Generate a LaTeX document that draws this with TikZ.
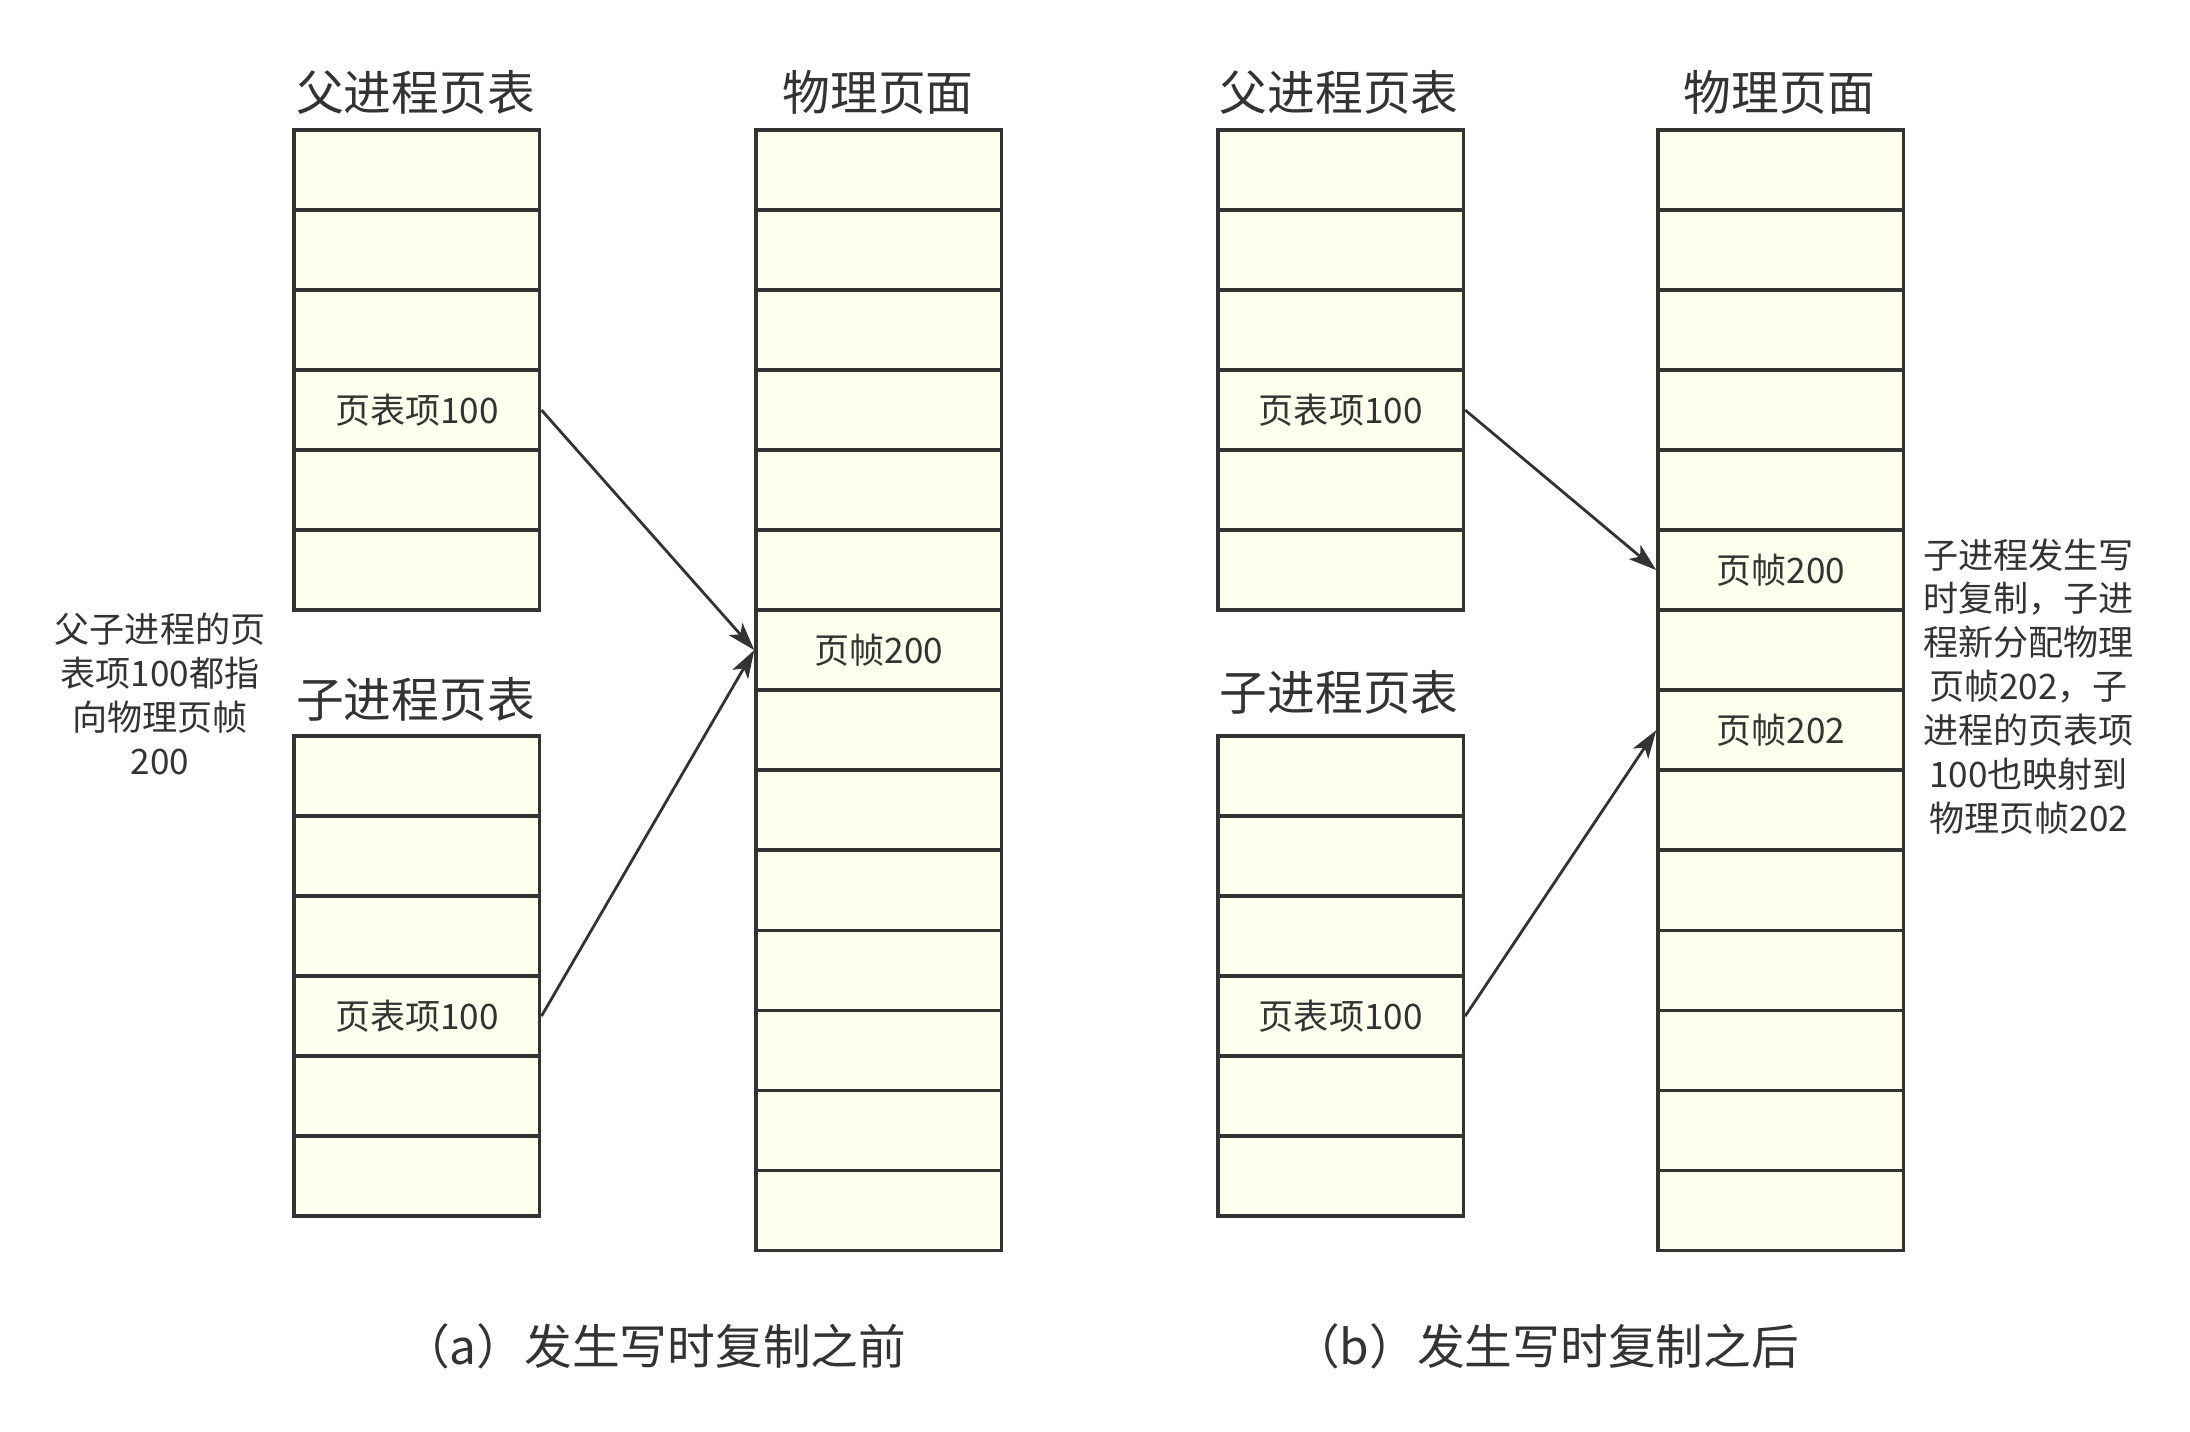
\documentclass[tikz,border=0pt]{standalone}
\usepackage{fontspec}
\setmainfont{Noto Sans CJK SC}
\usetikzlibrary{arrows.meta}
\definecolor{cellfill}{HTML}{FFFFEE}
\definecolor{inkgray}{HTML}{333333}
\tikzset{
	cell/.style={draw=inkgray, line width=2.4pt, fill=cellfill, minimum width=175pt, minimum height=57pt, inner sep=0pt, text=inkgray, font=\fontsize{25}{27}\selectfont},
	heading/.style={text=inkgray, font=\fontsize{34}{38}\selectfont},
	remark/.style={text=inkgray, align=center, font=\fontsize{25}{31.3}\selectfont},
	pointer/.style={draw=inkgray, line width=2pt, -{Stealth[length=20pt,width=13pt,inset=5pt]}}
}

\begin{document}
\begin{tikzpicture}[x=1pt, y=-1pt]
			%%%%% START %%%%%
			\useasboundingbox (0, 0) rectangle (1560, 1020);
			
			% (a) before
			\node[heading] (aparenttitle) at (296, 66) {父进程页表};
			\node[cell] (apar1) at (297, 121.1) {};
			\node[cell] (apar2) at (297, 178.1) {};
			\node[cell] (apar3) at (297, 235.1) {};
			\node[cell] (apar4) at (297, 292.1) {页表项100};
			\node[cell] (apar5) at (297, 349.1) {};
			\node[cell] (apar6) at (297, 406.1) {};
			
			\node[heading] (achildtitle) at (296, 498) {子进程页表};
			\node[cell] (achd1) at (297, 552.8) {};
			\node[cell] (achd2) at (297, 609.8) {};
			\node[cell] (achd3) at (297, 666.8) {};
			\node[cell] (achd4) at (297, 723.8) {页表项100};
			\node[cell] (achd5) at (297, 780.8) {};
			\node[cell] (achd6) at (297, 837.8) {};
			
			\node[heading] (aphystitle) at (625.5, 66) {物理页面};
			\node[cell] (aphy1) at (626, 121.1) {};
			\node[cell] (aphy2) at (626, 178.1) {};
			\node[cell] (aphy3) at (626, 235.1) {};
			\node[cell] (aphy4) at (626, 292.1) {};
			\node[cell] (aphy5) at (626, 349.1) {};
			\node[cell] (aphy6) at (626, 406.1) {};
			\node[cell] (aphy7) at (626, 463.1) {页帧200};
			\node[cell] (aphy8) at (626, 520.1) {};
			\node[cell] (aphy9) at (626, 577.1) {};
			\node[cell] (aphy10) at (626, 634.1) {};
			\node[cell] (aphy11) at (626, 691.1) {};
			\node[cell] (aphy12) at (626, 748.1) {};
			\node[cell] (aphy13) at (626, 805.1) {};
			\node[cell] (aphy14) at (626, 862.1) {};
			
			\draw[pointer] (apar4.east) -- (aphy7.west);
			\draw[pointer] (achd4.east) -- (aphy7.west);
			
			\node[remark] (anote) at (114, 494) {父子进程的页\\表项100都指\\向物理页帧\\200};
			\node[heading] (acaption) at (466, 959) {（a）发生写时复制之前};
			
			% (b) after
			\node[heading] (bparenttitle) at (954, 66) {父进程页表};
			\node[cell] (bpar1) at (955, 121.1) {};
			\node[cell] (bpar2) at (955, 178.1) {};
			\node[cell] (bpar3) at (955, 235.1) {};
			\node[cell] (bpar4) at (955, 292.1) {页表项100};
			\node[cell] (bpar5) at (955, 349.1) {};
			\node[cell] (bpar6) at (955, 406.1) {};
			
			\node[heading] (bchildtitle) at (954, 493) {子进程页表};
			\node[cell] (bchd1) at (955, 552.8) {};
			\node[cell] (bchd2) at (955, 609.8) {};
			\node[cell] (bchd3) at (955, 666.8) {};
			\node[cell] (bchd4) at (955, 723.8) {页表项100};
			\node[cell] (bchd5) at (955, 780.8) {};
			\node[cell] (bchd6) at (955, 837.8) {};
			
			\node[heading] (bphystitle) at (1267.5, 66) {物理页面};
			\node[cell] (bphy1) at (1268.5, 121.1) {};
			\node[cell] (bphy2) at (1268.5, 178.1) {};
			\node[cell] (bphy3) at (1268.5, 235.1) {};
			\node[cell] (bphy4) at (1268.5, 292.1) {};
			\node[cell] (bphy5) at (1268.5, 349.1) {};
			\node[cell] (bphy6) at (1268.5, 406.1) {页帧200};
			\node[cell] (bphy7) at (1268.5, 463.1) {};
			\node[cell] (bphy8) at (1268.5, 520.1) {页帧202};
			\node[cell] (bphy9) at (1268.5, 577.1) {};
			\node[cell] (bphy10) at (1268.5, 634.1) {};
			\node[cell] (bphy11) at (1268.5, 691.1) {};
			\node[cell] (bphy12) at (1268.5, 748.1) {};
			\node[cell] (bphy13) at (1268.5, 805.1) {};
			\node[cell] (bphy14) at (1268.5, 862.1) {};
			
			\draw[pointer] (bpar4.east) -- (bphy6.west);
			\draw[pointer] (bchd4.east) -- (bphy8.west);
			
			\node[remark] (bnote) at (1445, 489) {子进程发生写\\时复制，子进\\程新分配物理\\页帧202，子\\进程的页表项\\100也映射到\\物理页帧202};
			\node[heading] (bcaption) at (1101, 959) {（b）发生写时复制之后};
			
			%%%%% END %%%%%
\end{tikzpicture}
\end{document}
